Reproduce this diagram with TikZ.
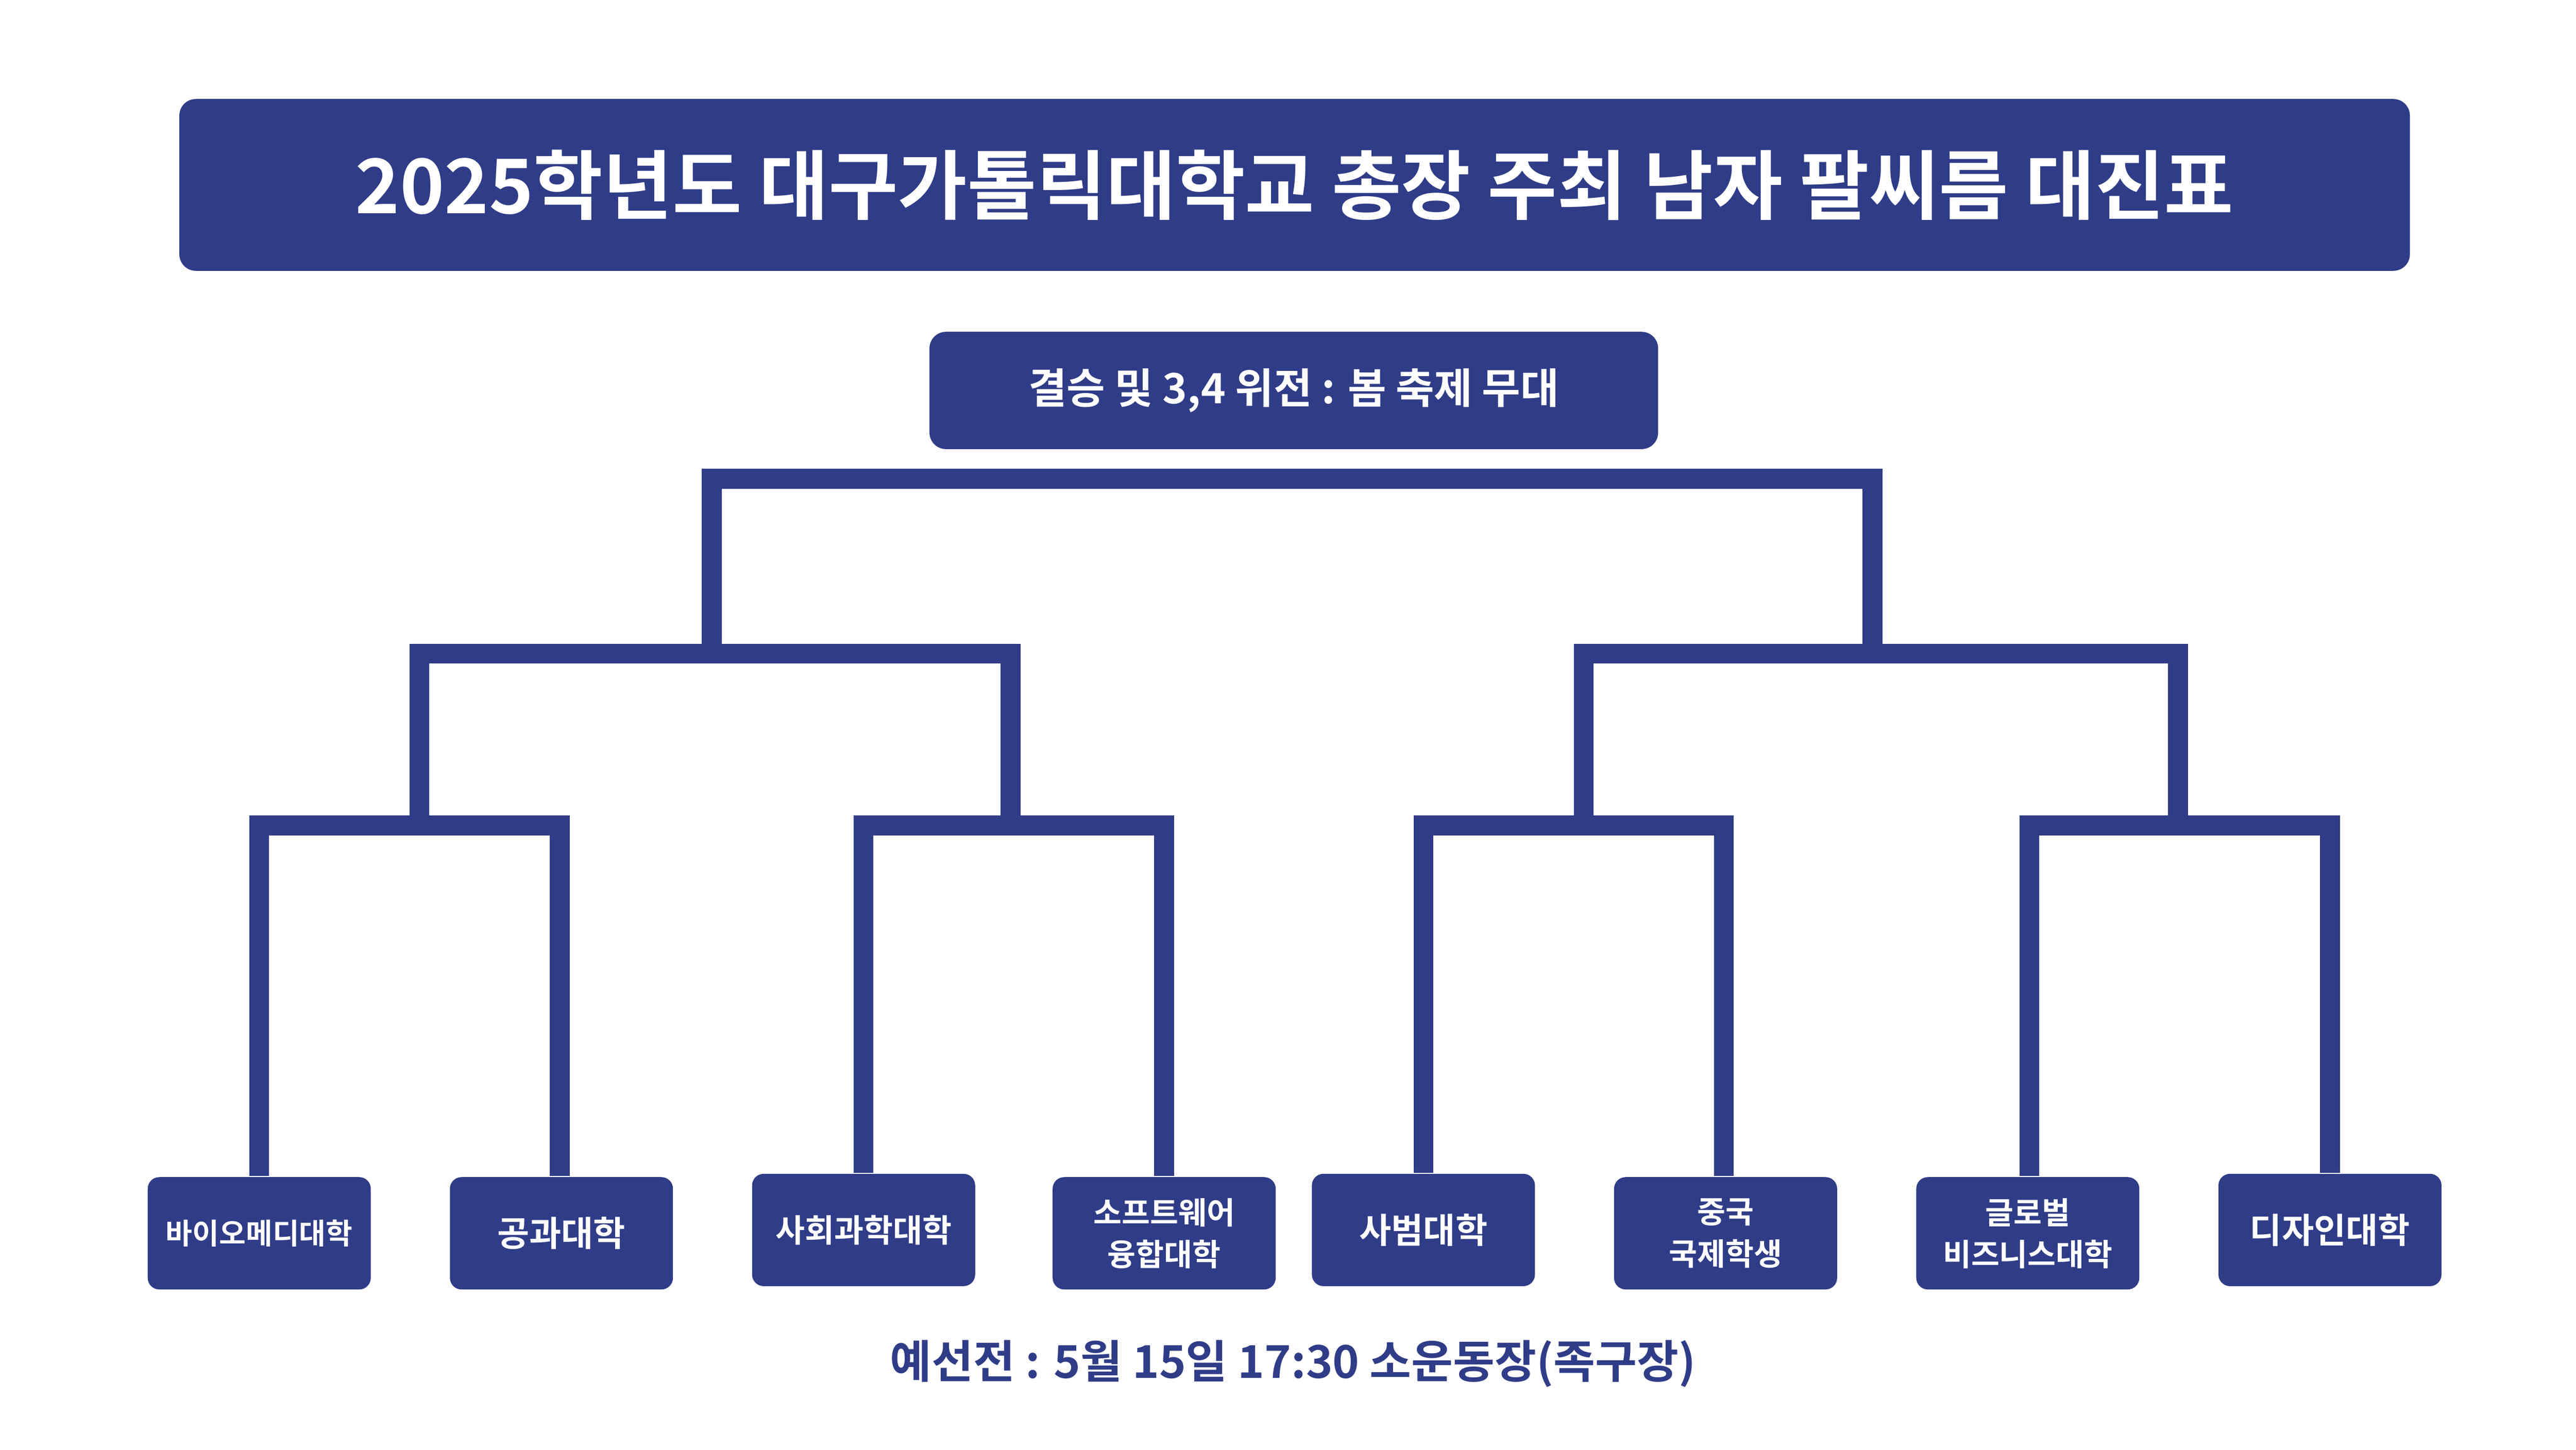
\documentclass[tikz,border=0pt]{standalone}
\usepackage{fontspec}
\setmainfont{Noto Sans CJK KR}[BoldFont={* Bold}]
\usetikzlibrary{positioning}
\definecolor{navy}{HTML}{2F3C87}
\tikzset{
    banner/.style={rectangle, rounded corners=0.1cm, fill=navy, text=white, font=\bfseries, align=center, inner sep=0pt},
    team/.style={rectangle, rounded corners=0.07cm, fill=navy, text=white, font=\bfseries\fontsize{6}{7}\selectfont, align=center, minimum width=1.35cm, minimum height=0.68cm, inner sep=0pt},
    bracket/.style={draw=navy, line width=3.4pt}
}
\begin{document}
\begin{tikzpicture}[x=0.01cm, y=-0.01cm]
        \useasboundingbox (0,0) rectangle (1560,878);
        
        % Title
        \node (title) [banner, minimum width=13.5cm, minimum height=1.04cm, font=\bfseries\fontsize{13}{15}\selectfont] at (784,112) {2025학년도 대구가톨릭대학교 총장 주최 남자 팔씨름 대진표};
        \node (final) [banner, minimum width=4.41cm, minimum height=0.71cm, font=\bfseries\fontsize{7.2}{9}\selectfont] at (783.5,236.5) {결승 및 3,4 위전 : 봄 축제 무대};
        
        % Teams
        \node (t1) [team, font=\bfseries\fontsize{5}{6}\selectfont] at (157,747) {바이오메디대학};
        \node (t2) [team] at (340,747) {공과대학};
        \node (t3) [team, font=\bfseries\fontsize{5.5}{6.5}\selectfont] at (523,745) {사회과학대학};
        \node (t4) [team, font=\bfseries\fontsize{5.3}{7.2}\selectfont] at (705,747) {소프트웨어\\융합대학};
        \node (t5) [team] at (862,745) {사범대학};
        \node (t6) [team, font=\bfseries\fontsize{5.3}{7.2}\selectfont] at (1045,747) {중국\\국제학생};
        \node (t7) [team, font=\bfseries\fontsize{5.3}{7.2}\selectfont] at (1228,747) {글로벌\\비즈니스대학};
        \node (t8) [team] at (1411,745) {디자인대학};
        
        \node (prelim) [text=navy, font=\bfseries\fontsize{7.8}{9}\selectfont] at (783,826) {예선전 : 5월 15일 17:30 소운동장(족구장)};
        
        % Junctions
        \coordinate (q1) at (254,500);
        \coordinate (q2) at (612,500);
        \coordinate (q3) at (959,500);
        \coordinate (q4) at (1319,500);
        \coordinate (s1) at (431,396);
        \coordinate (s2) at (1134,396);
        \coordinate (top) at (783,290);
        
        % Brackets
        \draw[bracket] (t1.north -| 157,0) |- (q1) -| (t2.north -| 339,0);
        \draw[bracket] (t3.north) |- (q2) -| (t4.north);
        \draw[bracket] (t5.north) |- (q3) -| (t6.north -| 1044,0);
        \draw[bracket] (t7.north -| 1229,0) |- (q4) -| (t8.north);
        \draw[bracket] (q1) |- (s1) -| (q2);
        \draw[bracket] (q3) |- (s2) -| (q4);
        \draw[bracket] (s1) |- (top) -| (s2);
        
\end{tikzpicture}
\end{document}
